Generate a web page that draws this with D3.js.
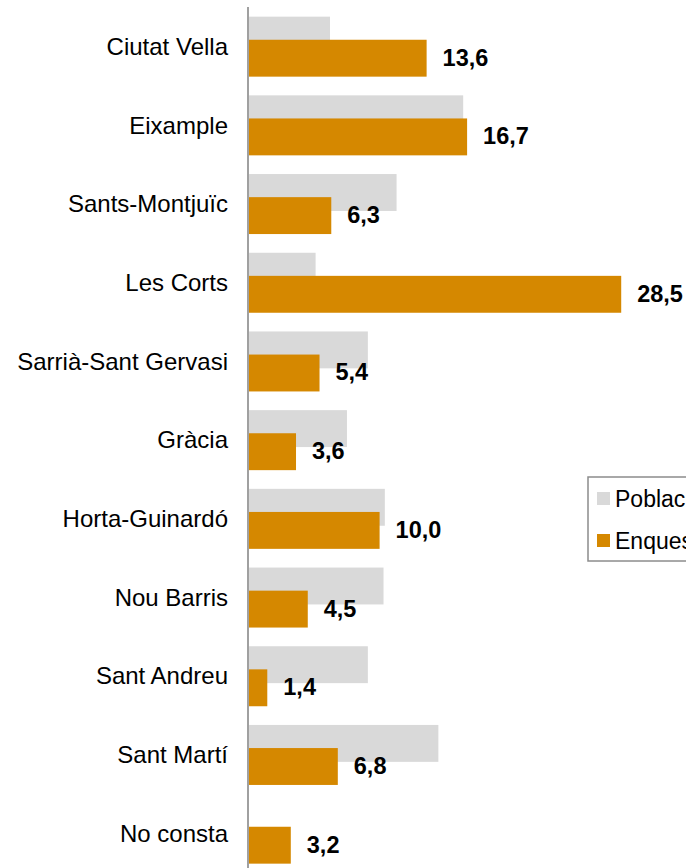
<!DOCTYPE html>
<html>
<head>
  <meta charset="utf-8">
  <title>Població i enquesta per districte</title>
  <script src="https://d3js.org/d3.v7.min.js"></script>
  <style>
    body { margin: 0; background: #fff; }
    svg { display: block; font-family: "Liberation Sans", Arial, sans-serif; }
  </style>
</head>
<body>
<div id="chart"></div>
<script>
// Data (percentages)
const districts = ["Ciutat Vella", "Eixample", "Sants-Montjuïc", "Les Corts",
  "Sarrià-Sant Gervasi", "Gràcia", "Horta-Guinardó", "Nou Barris",
  "Sant Andreu", "Sant Martí", "No consta"];
const poblacio = [6.2, 16.4, 11.3, 5.1, 9.1, 7.5, 10.4, 10.3, 9.1, 14.5, 0];
const enquesta = [13.6, 16.7, 6.3, 28.5, 5.4, 3.6, 10.0, 4.5, 1.4, 6.8, 3.2];
const seriesNames = ["Població", "Enquesta"];
const colors = ["#d9d9d9", "#d58800"];

const width = 686, height = 868;

const svg = d3.select("#chart").append("svg")
  .attr("width", width)
  .attr("height", height);

// scales
const x = d3.scaleLinear()
  .domain([0, 30])
  .range([249, 249 + 30 * 13.06]);

const y = d3.scaleBand()
  .domain(districts)
  .range([7.3, 7.3 + 11 * 78.7])
  .paddingInner(0.2376)
  .paddingOuter(0.1188);

const bw = y.bandwidth();
const barH = bw * 0.615;

// grey bars (behind)
svg.append("g").selectAll("rect")
  .data(districts)
  .join("rect")
    .attr("x", x(0))
    .attr("y", d => y(d))
    .attr("width", (d, i) => x(poblacio[i]) - x(0))
    .attr("height", barH)
    .attr("fill", colors[0]);

// orange bars (front, overlapping)
svg.append("g").selectAll("rect")
  .data(districts)
  .join("rect")
    .attr("x", x(0))
    .attr("y", d => y(d) + bw - barH)
    .attr("width", (d, i) => x(enquesta[i]) - x(0))
    .attr("height", barH)
    .attr("fill", colors[1]);

// value labels
svg.append("g").selectAll("text")
  .data(districts)
  .join("text")
    .attr("x", (d, i) => x(enquesta[i]) + 16)
    .attr("y", d => y(d) + bw - barH / 2 + 0.358 * 23.5 - 1)
    .attr("font-size", 23.5)
    .attr("font-weight", "bold")
    .attr("fill", "#000")
    .text((d, i) => d3.format(".1f")(enquesta[i]).replace(".", ","));

// category labels
svg.append("g").selectAll("text")
  .data(districts)
  .join("text")
    .attr("x", 228)
    .attr("y", d => y(d) + bw / 2 + 0.358 * 23)
    .attr("text-anchor", "end")
    .attr("font-size", 24)
    .attr("fill", "#000")
    .text(d => d);

// vertical axis line
svg.append("line")
  .attr("x1", 248).attr("x2", 248)
  .attr("y1", 7).attr("y2", height)
  .attr("stroke", "#a0a0a0")
  .attr("stroke-width", 2);

// legend
const legend = svg.append("g").attr("transform", "translate(588,477)");
legend.append("rect")
  .attr("x", 0).attr("y", 0)
  .attr("width", 140).attr("height", 84)
  .attr("fill", "#fff")
  .attr("stroke", "#8c8c8c")
  .attr("stroke-width", 1.5);

seriesNames.forEach((name, i) => {
  legend.append("rect")
    .attr("x", 9).attr("y", 15 + i * 42)
    .attr("width", 13).attr("height", 13)
    .attr("fill", colors[i]);
  legend.append("text")
    .attr("x", 27).attr("y", 21.5 + i * 42 + 0.358 * 23)
    .attr("font-size", 23)
    .attr("fill", "#000")
    .text(name);
});
</script>
</body>
</html>
